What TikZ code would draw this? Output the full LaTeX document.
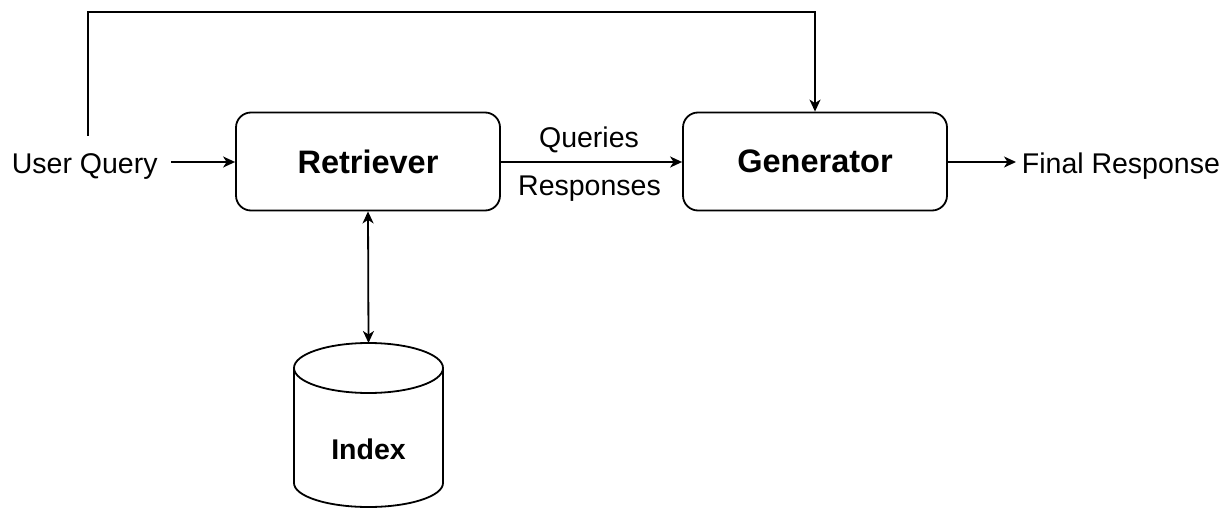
\documentclass[tikz,border=0pt]{standalone}
\usepackage{fontspec}
\setmainfont{Liberation Sans}
\usetikzlibrary{arrows.meta}
\begin{document}
\begin{tikzpicture}[x=1pt,y=-1pt,
  line width=1.8pt,
  arr/.style={-{Stealth[length=12pt,width=11pt,inset=3.5pt]}},
  darr/.style={{Stealth[length=12pt,width=11pt,inset=3.5pt]}-{Stealth[length=12pt,width=11pt,inset=3.5pt]}},
  block/.style={draw, rounded corners=15pt, minimum width=264pt, minimum height=98pt, inner sep=0pt,
    font=\fontsize{32.5pt}{36pt}\selectfont\bfseries},
  lbl/.style={inner sep=0pt, font=\fontsize{28.5pt}{32pt}\selectfont},
]
\useasboundingbox (0,0) rectangle (1228,508);
\fill[white] (0,0) rectangle (1228,508);

% boxes
\node[block] (ret) at (368,161.5) {Retriever};
\node[block] (gen) at (815,161.5) {Generator};

% texts
\node[lbl, anchor=base west] (uq) at (11,173) {User Query};
\node[lbl, anchor=base west] (fr) at (1021,173) {Final Response};
\node[lbl, anchor=base] (q) at (589,147) {Queries};
\node[lbl, anchor=base] (r) at (589.5,195) {Responses};

% cylinder
\coordinate (idxtop) at (368.5,343);
\draw[fill=white] (294,368) -- (294,483) arc[start angle=180, end angle=0, x radius=74.5, y radius=24] -- (443,368);
\draw (368.5,368) ellipse[x radius=74.5, y radius=25];
\node[inner sep=0pt, anchor=base, font=\fontsize{28.5pt}{32pt}\selectfont\bfseries] (idx) at (368.5,459) {Index};

% connectors
\coordinate (uqstart) at (171,162);
\coordinate (uqtop) at (88,136);
\coordinate (frend) at (1016,162);
\draw[arr] (uqstart) -- (ret.west |- uqstart);
\draw[arr] (ret.east |- uqstart) -- (gen.west |- uqstart);
\draw[arr] (gen.east |- frend) -- (frend);
\draw[arr] (uqtop) -- (88,12) -- (815,12) -- (gen.north);
\draw[darr] (ret.south) -- (idxtop);
\end{tikzpicture}
\end{document}
